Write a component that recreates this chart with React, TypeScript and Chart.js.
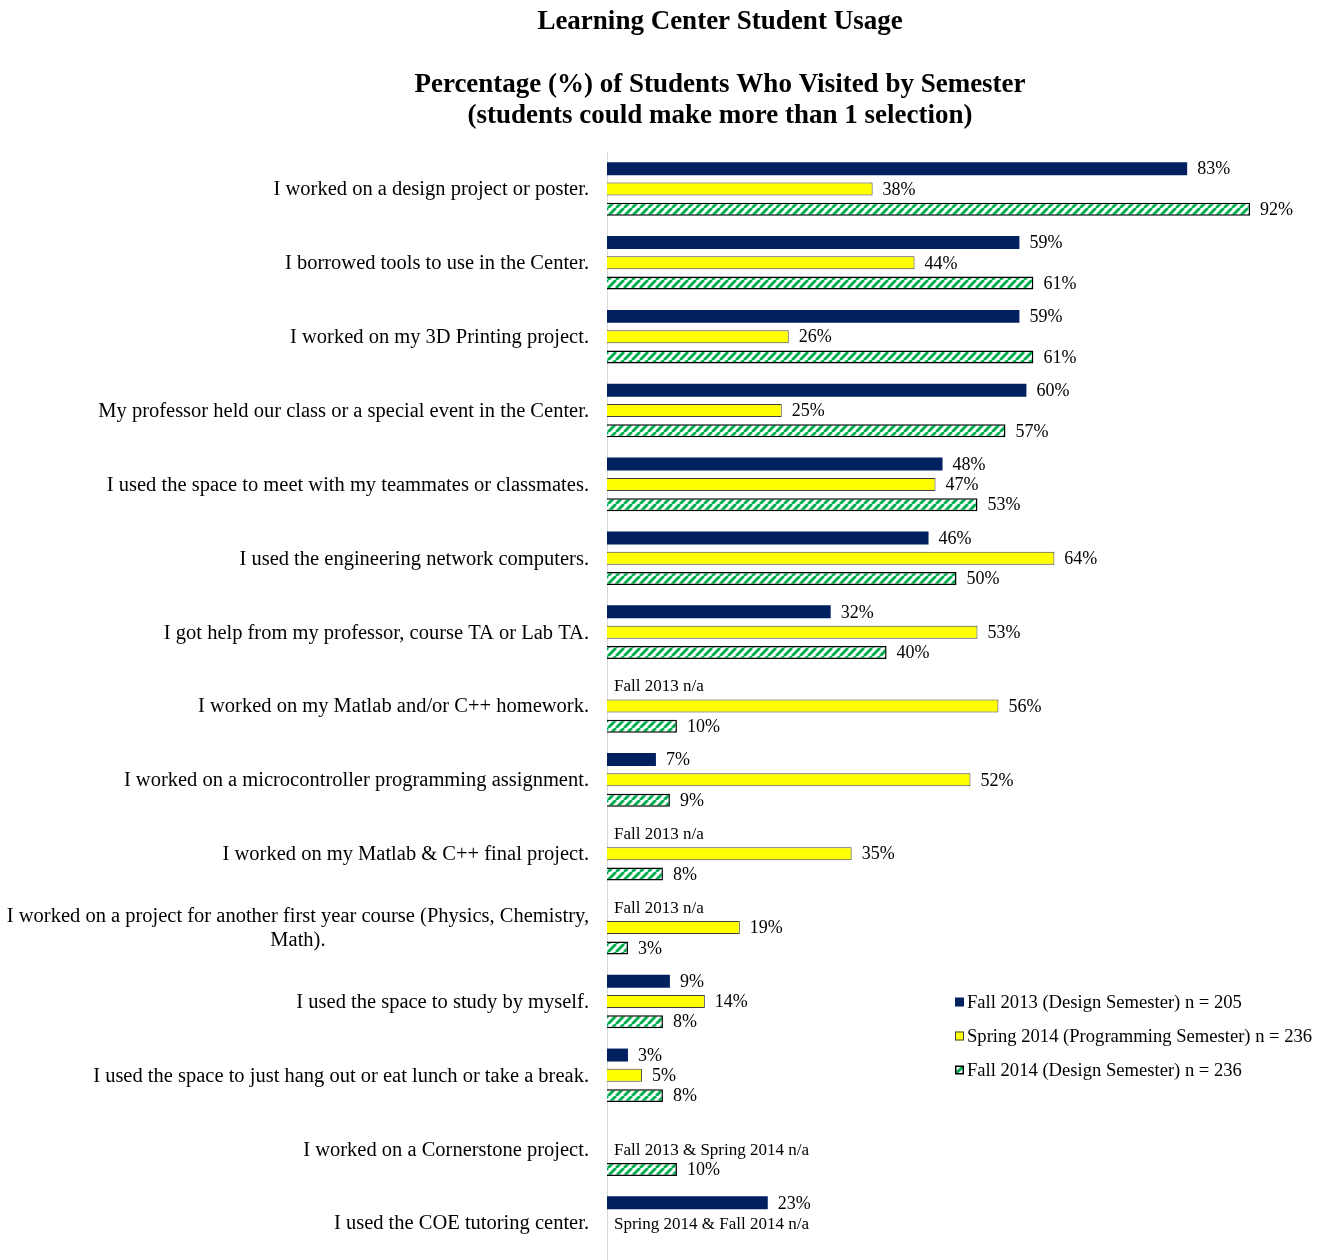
import { useEffect, useRef } from 'react';
import { Chart, registerables } from 'chart.js';

Chart.register(...registerables);

const titleLines = [
  'Learning Center Student Usage',
  'Percentage (%) of Students Who Visited by Semester',
  '(students could make more than 1 selection)',
];

const categories: (string | string[])[] = [
  'I worked on a design project or poster.',
  'I borrowed tools to use in the Center.',
  'I worked on my 3D Printing project.',
  'My professor held our class or a special event in the Center.',
  'I used the space to meet with my teammates or classmates.',
  'I used the engineering network computers.',
  'I got help from my professor, course TA or Lab TA.',
  'I worked on my Matlab and/or C++ homework.',
  'I worked on a microcontroller programming assignment.',
  'I worked on my Matlab & C++ final project.',
  ['I worked on a project for another first year course (Physics, Chemistry,', 'Math).'],
  'I used the space to study by myself.',
  'I used the space to just hang out or eat lunch or take a break.',
  'I worked on a Cornerstone project.',
  'I used the COE tutoring center.',
];

const seriesNames = [
  'Fall 2013 (Design Semester) n = 205',
  'Spring 2014 (Programming Semester) n = 236',
  'Fall 2014 (Design Semester) n = 236',
];

const fall2013 = [83, 59, 59, 60, 48, 46, 32, null, 7, null, null, 9, 3, null, 23];
const spring2014 = [38, 44, 26, 25, 47, 64, 53, 56, 52, 35, 19, 14, 5, null, null];
const fall2014 = [92, 61, 61, 57, 53, 50, 40, 10, 9, 8, 3, 8, 8, 10, null];

const notes = [
  { cat: 7, series: 0, text: 'Fall 2013 n/a' },
  { cat: 9, series: 0, text: 'Fall 2013 n/a' },
  { cat: 10, series: 0, text: 'Fall 2013 n/a' },
  { cat: 13, series: 1, text: 'Fall 2013 & Spring 2014 n/a' },
  { cat: 14, series: 1, text: 'Spring 2014 & Fall 2014 n/a' },
];

const FONT = '"Liberation Serif", "Times New Roman", serif';
const NAVY = '#002060';
const YELLOW = '#FFFF00';
const GREEN = '#00B050';
const CAT_PCT = 0.824;
const BAR_PCT = 0.64;

function makeHatch(): CanvasPattern | string {
  const c = document.createElement('canvas');
  const s = 8;
  c.width = s;
  c.height = s;
  const g = c.getContext('2d');
  if (!g) return GREEN;
  g.fillStyle = '#ffffff';
  g.fillRect(0, 0, s, s);
  g.strokeStyle = GREEN;
  g.lineWidth = 3;
  g.beginPath();
  for (const k of [-s, 0, s]) {
    g.moveTo(k, s);
    g.lineTo(k + s, 0);
  }
  g.stroke();
  return g.createPattern(c, 'repeat') || GREEN;
}

const customDraw = {
  id: 'customDraw',
  afterDraw(chart: any) {
    const { ctx, chartArea } = chart;
    const yScale = chart.scales.y;
    ctx.save();
    ctx.fillStyle = '#000';
    ctx.textBaseline = 'middle';

    // titles
    ctx.textAlign = 'center';
    ctx.font = `bold 27px ${FONT}`;
    ctx.fillText(titleLines[0], 720, 22);
    ctx.fillText(titleLines[1], 720, 85);
    ctx.fillText(titleLines[2], 720, 116);

    // category labels
    ctx.font = `20.5px ${FONT}`;
    categories.forEach((lab, i) => {
      const lines = Array.isArray(lab) ? lab : [lab];
      const cy = yScale.getPixelForValue(i);
      const lh = 24;
      const maxW = Math.max(...lines.map((l) => ctx.measureText(l).width));
      const right = chartArea.left - 18;
      const cx = right - maxW / 2;
      ctx.textAlign = 'center';
      lines.forEach((l, k) => {
        ctx.fillText(l, cx, cy + (k - (lines.length - 1) / 2) * lh + 1);
      });
    });

    // value labels
    ctx.font = `18px ${FONT}`;
    ctx.textAlign = 'left';
    chart.data.datasets.forEach((ds: any, di: number) => {
      const meta = chart.getDatasetMeta(di);
      meta.data.forEach((el: any, i: number) => {
        const v = ds.data[i];
        if (v == null) return;
        ctx.fillText(`${v}%`, el.x + 10, el.y + 1);
      });
    });

    // n/a notes
    const catH = (chartArea.bottom - chartArea.top) / categories.length;
    const pitch = (catH * CAT_PCT) / 3;
    ctx.font = `17px ${FONT}`;
    notes.forEach((n) => {
      const cy = yScale.getPixelForValue(n.cat) + (n.series - 1) * pitch;
      ctx.fillText(n.text, chartArea.left + 7, cy + 1);
    });

    // legend
    const lx = 955;
    const ly = [1002, 1036, 1070];
    const ms = 9;
    ctx.font = `18.6px ${FONT}`;
    seriesNames.forEach((name, i) => {
      const y = ly[i];
      const top = y - ms / 2;
      if (i === 0) {
        ctx.fillStyle = NAVY;
        ctx.fillRect(lx, top, ms, ms);
      } else if (i === 1) {
        ctx.fillStyle = YELLOW;
        ctx.fillRect(lx, top, ms, ms);
        ctx.strokeStyle = '#404040';
        ctx.lineWidth = 1;
        ctx.strokeRect(lx + 0.5, top + 0.5, ms - 1, ms - 1);
      } else {
        ctx.fillStyle = '#fff';
        ctx.fillRect(lx, top, ms, ms);
        ctx.strokeStyle = GREEN;
        ctx.lineWidth = 3;
        ctx.beginPath();
        ctx.moveTo(lx + 1, top + ms - 1);
        ctx.lineTo(lx + ms - 1, top + 1);
        ctx.stroke();
        ctx.strokeStyle = '#000';
        ctx.lineWidth = 1.5;
        ctx.strokeRect(lx + 0.75, top + 0.75, ms - 1.5, ms - 1.5);
      }
      ctx.fillStyle = '#000';
      ctx.textAlign = 'left';
      ctx.fillText(name, lx + 12, y + 1);
    });
    ctx.restore();
  },
};

export default function App() {
  const ref = useRef<HTMLCanvasElement | null>(null);
  useEffect(() => {
    document.body.style.margin = '0';
    const canvas = ref.current;
    if (!canvas) return;
    const hatch = makeHatch();
    const chart = new Chart(canvas, {
      type: 'bar',
      data: {
        labels: categories as any,
        datasets: [
          {
            label: seriesNames[0],
            data: fall2013 as any,
            backgroundColor: NAVY,
            borderWidth: 0,
          },
          {
            label: seriesNames[1],
            data: spring2014 as any,
            backgroundColor: YELLOW,
            borderColor: '#404040',
            borderWidth: 1,
          },
          {
            label: seriesNames[2],
            data: fall2014 as any,
            backgroundColor: hatch as any,
            borderColor: '#000000',
            borderWidth: 1.5,
          },
        ],
      },
      options: {
        indexAxis: 'y',
        responsive: false,
        animation: false,
        datasets: {
          bar: {
            categoryPercentage: CAT_PCT,
            barPercentage: BAR_PCT,
          },
        },
        layout: { padding: { top: 152, left: 0, right: 19, bottom: 0 } },
        plugins: {
          legend: { display: false },
          title: { display: false },
          tooltip: { enabled: false },
        },
        scales: {
          x: {
            display: false,
            min: 0,
            max: 100,
          },
          y: {
            type: 'category',
            grid: { display: false },
            border: { display: true, color: '#d9d9d9', width: 1 },
            ticks: { display: false },
            afterFit: (scale: any) => {
              scale.width = 607;
            },
          },
        },
      },
      plugins: [customDraw],
    });
    return () => chart.destroy();
  }, []);
  return (
    <div style={{ width: 1325, height: 1260, background: '#fff' }}>
      <canvas ref={ref} width={1325} height={1260} style={{ display: 'block', width: 1325, height: 1260 }} />
    </div>
  );
}
